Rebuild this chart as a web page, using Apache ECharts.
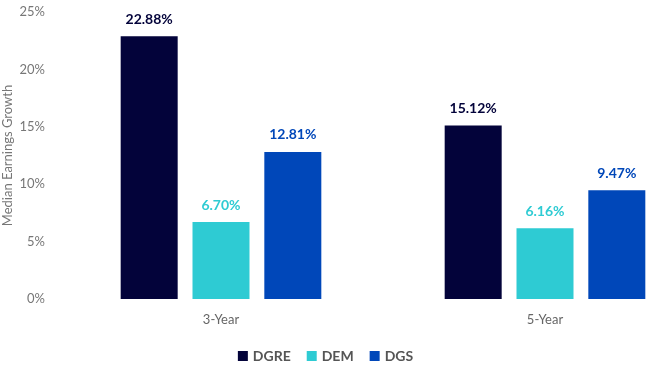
<!DOCTYPE html>
<html>
<head>
<meta charset="utf-8">
<script src="https://cdn.jsdelivr.net/npm/echarts@6/dist/echarts.min.js"></script>
<style>
    html, body { margin: 0; padding: 0; background: #fff; }
    #chart { width: 651px; height: 371px; }
</style>
</head>
<body>
<div id="chart"></div>
<script>
// 数据
const categories = ['3-Year', '5-Year'];
const seriesNames = ['DGRE', 'DEM', 'DGS'];
const dgre = [22.88, 15.12];
const dem = [6.70, 6.16];
const dgs = [12.81, 9.47];
const colors = ['#03033a', '#2ecbd3', '#0047b9'];

const chart = echarts.init(document.getElementById('chart'));

const makeSeries = (name, data, color) => ({
    name: name,
    type: 'bar',
    data: data,
    barWidth: 57,
    barGap: '26%',
    itemStyle: { color: color },
    label: {
        show: true,
        position: 'top',
        distance: 10,
        color: color,
        fontWeight: 'bold',
        fontSize: 14,
        fontFamily: 'Lato',
        formatter: p => p.value.toFixed(2) + '%'
    }
});

let option = {
    textStyle: { fontFamily: 'Lato' },
    legend: {
        bottom: 3,
        left: 'center',
        itemWidth: 10,
        itemHeight: 10,
        itemGap: 16,
        icon: 'rect',
        textStyle: { color: '#555', fontWeight: 'bold', fontSize: 14 },
        data: seriesNames
    },
    grid: {
        left: 59,
        top: 12,
        bottom: 72,
        width: 648,
        outerBoundsMode: 'none'
    },
    xAxis: {
        type: 'category',
        data: categories,
        axisLine: { show: false },
        axisTick: { show: false },
        axisLabel: { color: '#666', fontSize: 13, margin: 14 }
    },
    yAxis: {
        type: 'value',
        min: 0,
        max: 25,
        interval: 5,
        name: 'Median Earnings Growth',
        nameLocation: 'middle',
        nameRotate: 90,
        nameGap: 45,
        nameMoveOverlap: false,
        nameTextStyle: { color: '#777', fontSize: 13 },
        splitLine: { show: false },
        axisLine: { show: false },
        axisTick: { show: false },
        axisLabel: { color: '#777', fontSize: 13, margin: 14, formatter: '{value}%' }
    },
    series: [
        makeSeries(seriesNames[0], dgre, colors[0]),
        makeSeries(seriesNames[1], dem, colors[1]),
        makeSeries(seriesNames[2], dgs, colors[2])
    ]
};

chart.setOption(option);
</script>
</body>
</html>
